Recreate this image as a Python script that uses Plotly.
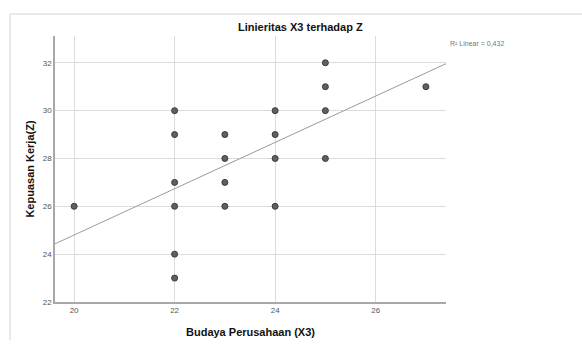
import plotly.graph_objects as go

# Observed scores: Budaya Perusahaan (X3) vs Kepuasan Kerja (Z)
x_budaya = [20, 22, 22, 22, 22, 22, 22, 23, 23, 23, 23, 24, 24, 24, 24, 25, 25, 25, 25, 27]
z_kepuasan = [26, 23, 24, 26, 27, 29, 30, 26, 27, 28, 29, 26, 28, 29, 30, 28, 30, 31, 32, 31]

# Linear fit reported by the analysis
fit_intercept = 5.44
fit_slope = 0.968
r_squared = "0,432"

x_range = [19.62, 27.40]
y_range = [22, 33.12]
x_ticks = [20, 22, 24, 26]
y_ticks = [22, 24, 26, 28, 30, 32]

W, H = 582, 349
ML, MR, MT, MB = 55, 135.5, 36, 35
pw = W - ML - MR
ph = H - MT - MB

def px_x(p):
    return (p - ML) / pw

def px_y(p):
    return (H - MB - p) / ph

fit_x = x_range
fit_y = [fit_intercept + fit_slope * v for v in fit_x]

fig = go.Figure()
fig.add_trace(go.Scatter(
    x=fit_x, y=fit_y, mode="lines",
    line=dict(color="#9a9a9a", width=1),
    hoverinfo="skip", showlegend=False,
))
fig.add_trace(go.Scatter(
    x=x_budaya, y=z_kepuasan, mode="markers",
    marker=dict(size=6, color="#606060", line=dict(color="#3a3a3a", width=1)),
    showlegend=False,
))

font_family = "Liberation Sans, Arial, sans-serif"
grid = "#dcdcdc"
axis_col = "#a8a8a8"

fig.update_layout(
    width=W, height=H,
    margin=dict(l=ML, r=MR, t=MT, b=MB),
    paper_bgcolor="white", plot_bgcolor="white",
    font=dict(family=font_family),
    xaxis=dict(
        range=x_range, tickvals=x_ticks, showgrid=True, gridcolor=grid, gridwidth=1,
        zeroline=False, showline=True, linecolor=axis_col, linewidth=1.5,
        ticks="", tickfont=dict(size=8, color="#555555"),
        title=dict(text="<b>Budaya Perusahaan (X3)</b>", standoff=14,
                   font=dict(size=11, color="#111111")),
    ),
    yaxis=dict(
        range=y_range, tickvals=y_ticks, showgrid=True, gridcolor=grid, gridwidth=1,
        zeroline=False, showline=True, linecolor=axis_col, linewidth=1.5,
        ticks="", tickfont=dict(size=8, color="#555555"),
        title=dict(text="<b>Kepuasan Kerja(Z)</b>", standoff=6,
                   font=dict(size=11, color="#111111")),
    ),
    shapes=[
        # chart frame (left and top edges)
        dict(type="line", xref="paper", yref="paper",
             x0=px_x(10), x1=px_x(10), y0=px_y(13), y1=px_y(H + 5),
             line=dict(color="#e2e2e2", width=1.5)),
        dict(type="line", xref="paper", yref="paper",
             x0=px_x(10), x1=px_x(W + 5), y0=px_y(13), y1=px_y(13),
             line=dict(color="#e2e2e2", width=1.5)),
    ],
    annotations=[
        dict(text="<b>Linieritas X3 terhadap Z</b>", xref="paper", yref="paper",
             x=px_x(301), y=px_y(26.5), xanchor="center", yanchor="middle",
             showarrow=False, font=dict(size=11, color="#111111")),
        dict(text="R² Linear = " + r_squared, xref="paper", yref="paper",
             x=px_x(449), y=px_y(43.5), xanchor="left", yanchor="middle",
             showarrow=False, font=dict(size=7, color="#777777")),
    ],
)

fig.write_html("out.html")
